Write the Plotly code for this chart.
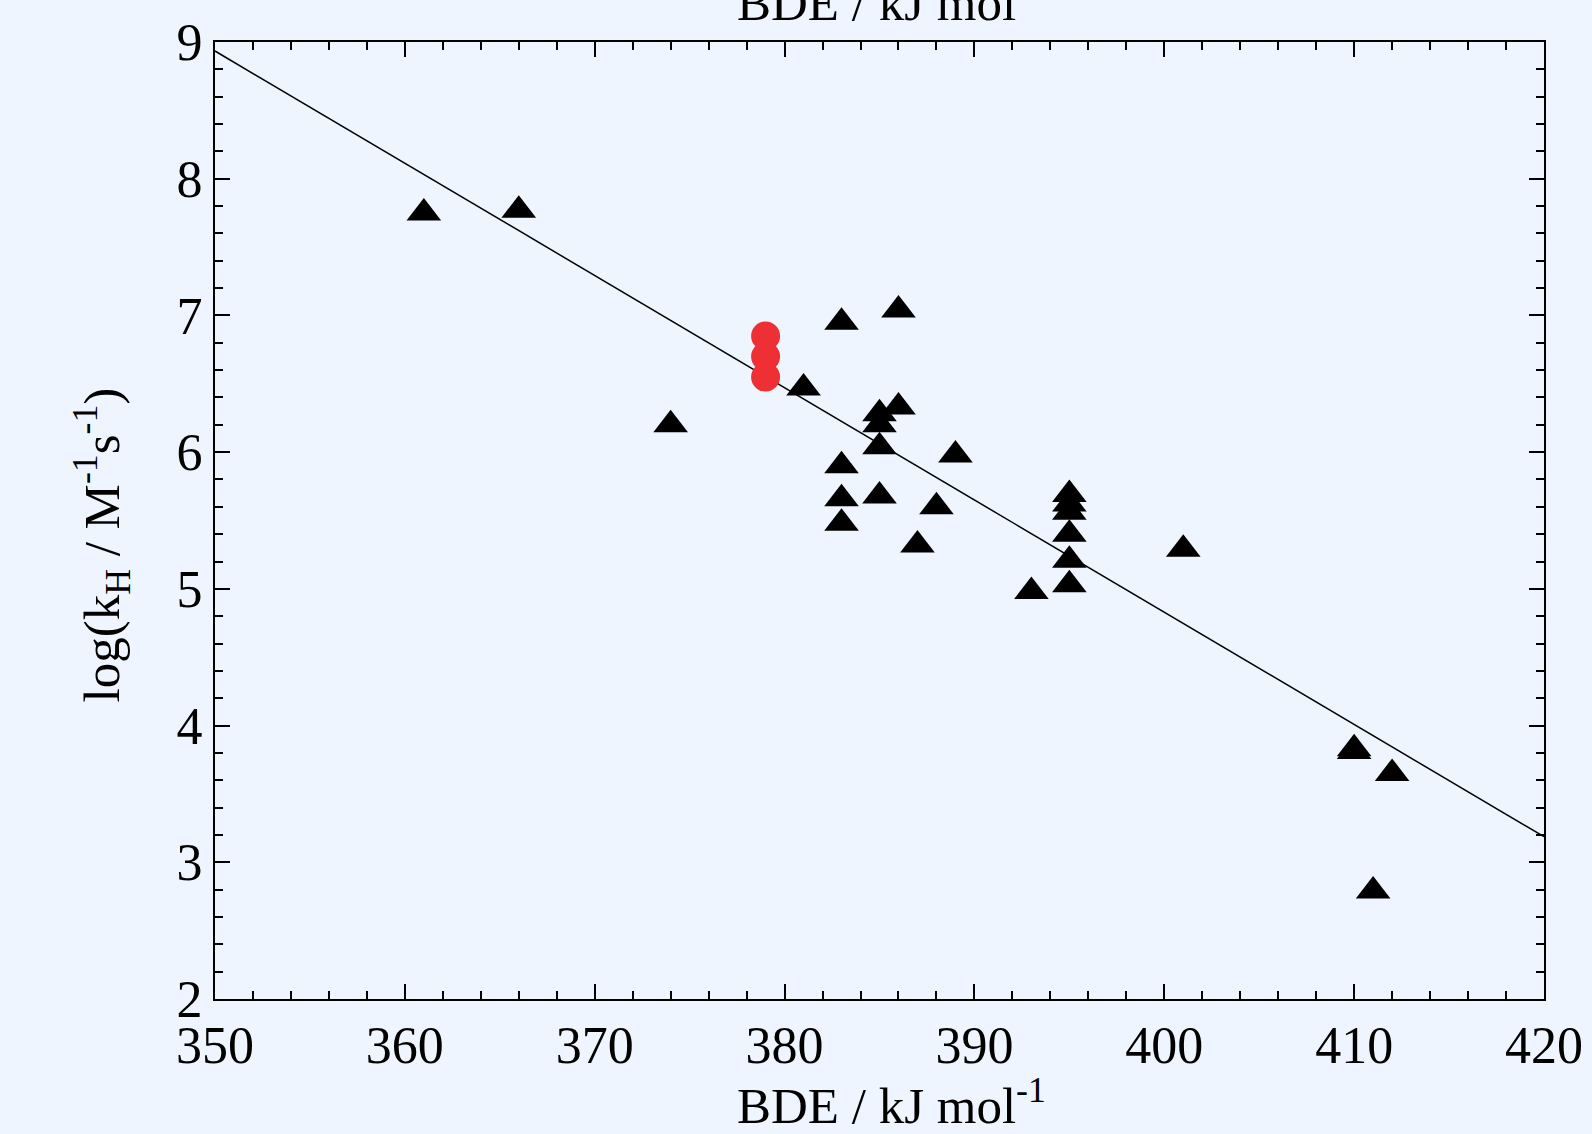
import plotly.graph_objects as go

# Data
bde = [361, 366, 374, 381, 383, 383, 383, 383, 385, 385, 385, 385, 386, 386,
       387, 388, 389, 393, 395, 395, 395, 395, 395, 395, 401, 410, 410, 411, 412]
logk = [7.75, 7.77, 6.20, 6.47, 6.95, 5.90, 5.66, 5.48, 6.28, 6.20, 6.04, 5.68, 7.04, 6.33,
        5.32, 5.60, 5.98, 4.98, 5.69, 5.62, 5.56, 5.40, 5.21, 5.03, 5.29, 3.83, 3.81, 2.79, 3.65]
red_bde = [379, 379, 379]
red_logk = [6.85, 6.70, 6.55]
fit_x = [350, 420]
fit_y = [8.934, 3.187]

x_ticks = [350, 360, 370, 380, 390, 400, 410, 420]
y_ticks = [2, 3, 4, 5, 6, 7, 8, 9]

x_title = "BDE / kJ mol<sup>-1</sup>"
y_title = "log(k<sub>H</sub> / M<sup>-1</sup>s<sup>-1</sup>)"

BG = "#EEF5FF"
FONT = "Liberation Serif, Times New Roman, serif"

fig = go.Figure()
fig.add_trace(go.Scatter(x=fit_x, y=fit_y, mode="lines",
                         line=dict(color="black", width=1.5), showlegend=False))
fig.add_trace(go.Scatter(x=bde, y=logk, mode="markers",
                         marker=dict(symbol="triangle-up", size=30, color="black",
                                     line=dict(width=0)),
                         showlegend=False))
fig.add_trace(go.Scatter(x=red_bde, y=red_logk, mode="markers",
                         marker=dict(symbol="circle", size=29, color="#EE3035",
                                     line=dict(width=0)),
                         showlegend=False))

axis_common = dict(
    showgrid=False, zeroline=False, showline=True, linecolor="black", linewidth=2,
    mirror="ticks", ticks="inside", ticklen=15, tickwidth=2, tickcolor="black",
    tickfont=dict(family=FONT, size=52, color="black"),
)

fig.update_xaxes(range=[350, 420], tickvals=x_ticks, ticktext=[str(v) for v in x_ticks],
                 minor=dict(dtick=2, ticks="inside", ticklen=8, tickwidth=1.5, tickcolor="black"),
                 **axis_common)
fig.update_yaxes(range=[2, 9], tickvals=y_ticks, ticktext=[str(v) for v in y_ticks],
                 minor=dict(dtick=0.2, ticks="inside", ticklen=8, tickwidth=1.5, tickcolor="black"),
                 **axis_common)

title_font = dict(family=FONT, size=51, color="black")
# top (clipped) title
fig.add_annotation(text=x_title, xref="paper", yref="paper",
                   x=0.5087, y=1, yanchor="bottom", yshift=9, showarrow=False,
                   font=title_font)
# bottom x-axis title
fig.add_annotation(text=x_title, xref="paper", yref="paper",
                   x=0.5087, y=0, yanchor="bottom", yshift=-137, showarrow=False,
                   font=title_font)
# y-axis title
fig.add_annotation(text=y_title, xref="paper", yref="paper",
                   x=-0.0854, y=0.4744, xanchor="center", yanchor="middle",
                   textangle=-90, showarrow=False, font=title_font)

fig.update_layout(
    width=1592, height=1134,
    margin=dict(l=215, r=48, t=42, b=135, autoexpand=False),
    paper_bgcolor=BG, plot_bgcolor=BG,
    font=dict(family=FONT, color="black"),
)

fig.write_html("out.html", config={"displayModeBar": False},
               post_script="document.body.style.margin='0';"
                           "document.body.style.background='" + BG + "';")
